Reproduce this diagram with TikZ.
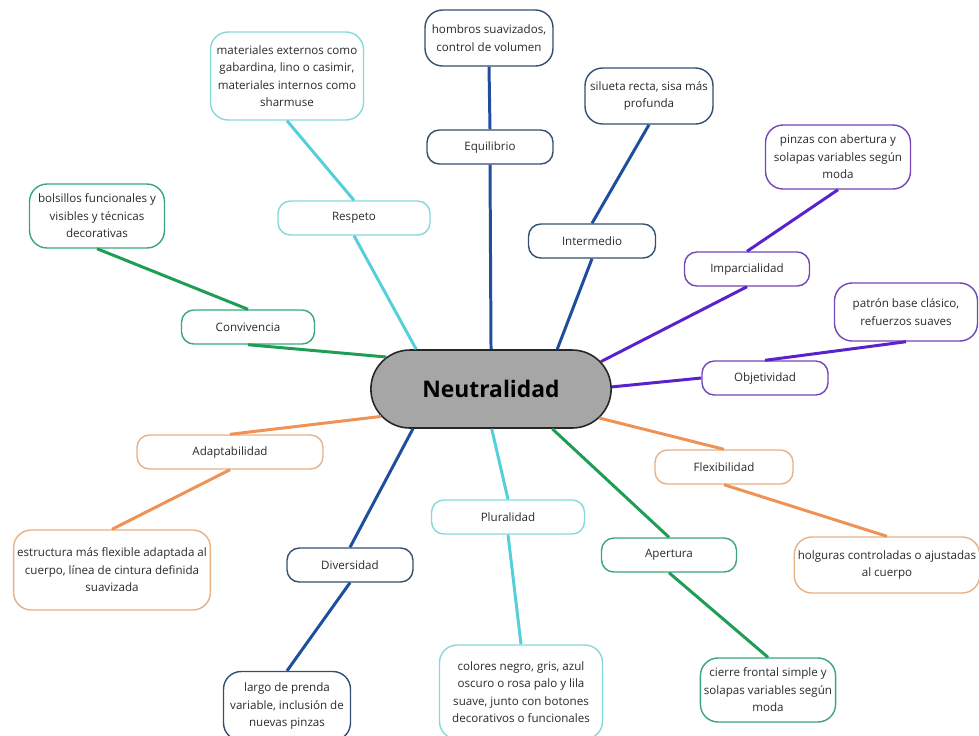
\documentclass[tikz,border=0pt]{standalone}
\usepackage{fontspec}
\setmainfont{Open Sans}
\usetikzlibrary{shapes.misc}
\definecolor{Ink}{HTML}{2B2B2B}
\definecolor{Navy}{HTML}{1F4E9C}
\definecolor{NavyEdge}{HTML}{34506E}
\definecolor{Aqua}{HTML}{55CFDA}
\definecolor{AquaEdge}{HTML}{86D9DA}
\definecolor{Leaf}{HTML}{1E9E55}
\definecolor{LeafEdge}{HTML}{3AA679}
\definecolor{Amber}{HTML}{EE9255}
\definecolor{AmberEdge}{HTML}{E6B288}
\definecolor{Violet}{HTML}{5A22CC}
\definecolor{VioletEdge}{HTML}{7446B8}
\definecolor{HubFill}{HTML}{A6A6A6}

\begin{document}
\begin{tikzpicture}[
            x=0.02cm, y=-0.02cm,
            hub/.style={rounded rectangle, draw=black!85, fill=HubFill, line width=0.9pt, minimum width=5.04cm, minimum height=1.56cm, font=\fontsize{13}{15}\selectfont\bfseries, text=black},
            branch/.style={rectangle, rounded corners=7pt, draw, line width=0.8pt, fill=white, minimum height=0.68cm, inner sep=2pt, align=center, font=\fontsize{6.6}{10}\selectfont, text=Ink},
            leaf/.style={branch, rounded corners=10pt},
            link/.style={line width=1.7pt}
        ]
            \useasboundingbox (0,0) rectangle (979,735);
            \clip (0,0) rectangle (979,735);

            \node[hub] (hub) at (491,389) {Neutralidad};

            \node[branch, draw=NavyEdge, minimum width=2.52cm] (equil) at (490,147) {Equilibrio};
            \node[branch, draw=NavyEdge, minimum width=2.54cm] (inter) at (592,241) {Intermedio};
            \node[branch, draw=VioletEdge, minimum width=2.5cm] (impar) at (747,269) {Imparcialidad};
            \node[branch, draw=VioletEdge, minimum width=2.52cm] (objet) at (765,378) {Objetividad};
            \node[branch, draw=AmberEdge, minimum width=2.76cm] (flex) at (724,467) {Flexibilidad};
            \node[branch, draw=LeafEdge, minimum width=2.7cm] (apert) at (669,555) {Apertura};
            \node[branch, draw=AquaEdge, minimum width=3.06cm] (plural) at (508,517) {Pluralidad};
            \node[branch, draw=NavyEdge, minimum width=2.52cm] (divers) at (350,565) {Diversidad};
            \node[branch, draw=AmberEdge, minimum width=3.72cm] (adapt) at (230,452) {Adaptabilidad};
            \node[branch, draw=LeafEdge, minimum width=2.66cm] (conviv) at (248,327) {Convivencia};
            \node[branch, draw=AquaEdge, minimum width=3.04cm] (respeto) at (354,218) {Respeto};

            \node[leaf, draw=NavyEdge, minimum width=2.56cm, minimum height=1.12cm] (hombros) at (489,38) {hombros suavizados,\\control de volumen};
            \node[leaf, draw=NavyEdge, minimum width=2.56cm, minimum height=1.12cm] (silueta) at (649,96) {silueta recta, sisa más\\profunda};
            \node[leaf, draw=VioletEdge, minimum width=2.9cm, minimum height=1.28cm] (pinzas) at (838,157) {pinzas con abertura y\\solapas variables según\\moda};
            \node[leaf, draw=VioletEdge, minimum width=2.86cm, minimum height=1.16cm] (patron) at (906,312) {patrón base clásico,\\refuerzos suaves};
            \node[leaf, draw=AmberEdge, minimum width=3.56cm, minimum height=1.12cm] (holguras) at (887,565) {holguras controladas o ajustadas\\al cuerpo};
            \node[leaf, draw=LeafEdge, minimum width=2.66cm, minimum height=1.28cm] (cierre) at (768,690) {cierre frontal simple y\\solapas variables según\\moda};
            \node[leaf, draw=AquaEdge, minimum width=3.26cm, minimum height=1.88cm] (colores) at (521,692) {colores negro, gris, azul\\oscuro o rosa palo y lila\\suave, junto con botones\\decorativos o funcionales};
            \node[leaf, draw=NavyEdge, minimum width=2.54cm, minimum height=1.38cm] (largo) at (287,706) {largo de prenda\\variable, inclusión de\\nuevas pinzas};
            \node[leaf, draw=AmberEdge, minimum width=3.86cm, minimum height=1.6cm] (estruct) at (112,570) {estructura más flexible adaptada al\\cuerpo, línea de cintura definida\\suavizada};
            \node[leaf, draw=LeafEdge, minimum width=2.7cm, minimum height=1.28cm] (bolsillos) at (97,216) {bolsillos funcionales y\\visibles y técnicas\\decorativas};
            \node[leaf, draw=AquaEdge, minimum width=3.06cm, minimum height=1.76cm] (mater) at (287,76) {materiales externos como\\gabardina, lino o casimir,\\materiales internos como\\sharmuse};

            \draw[link, Navy] (hombros.south) -- (equil.north);
            \draw[link, Navy] (equil.south) -- (hub.90);
            \draw[link, Navy] (silueta.south) -- (inter.north);
            \draw[link, Navy] (inter.south) -- (hub.31);
            \draw[link, Violet] (pinzas.south) -- (impar.north);
            \draw[link, Violet] (impar.south) -- (hub.14);
            \draw[link, Violet] (patron.south) -- (objet.north);
            \draw[link, Violet] (objet.west) -- (hub.1);
            \draw[link, Amber] (hub.345) -- (flex.north);
            \draw[link, Amber] (flex.south) -- (holguras.north);
            \draw[link, Leaf] (hub.327) -- (apert.north);
            \draw[link, Leaf] (apert.south) -- (cierre.north);
            \draw[link, Aqua] (hub.271) -- (plural.north);
            \draw[link, Aqua] (plural.south) -- (colores.north);
            \draw[link, Navy] (hub.207) -- (divers.north);
            \draw[link, Navy] (divers.south) -- (largo.north);
            \draw[link, Amber] (hub.194) -- (adapt.north);
            \draw[link, Amber] (adapt.south) -- (estruct.north);
            \draw[link, Leaf] (conviv.south) -- (hub.163);
            \draw[link, Leaf] (conviv.north) -- (bolsillos.south);
            \draw[link, Aqua] (hub.152) -- (respeto.south);
            \draw[link, Aqua] (respeto.north) -- (mater.south);
        \end{tikzpicture}
\end{document}
